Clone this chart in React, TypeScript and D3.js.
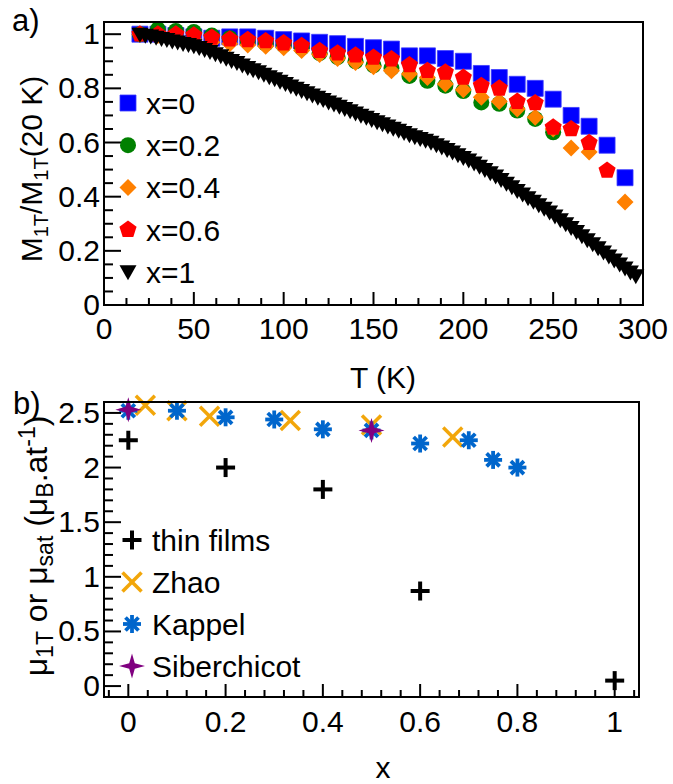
import React from 'react';
import * as d3 from 'd3';

const FONT = '"Liberation Sans", Arial, Helvetica, sans-serif';

// ---------- Panel a) data: M1T / M1T(20 K) vs T ----------
const T_x0 = [20, 30, 40, 50, 60, 70, 80, 90, 100, 110, 120, 130, 140, 150, 160, 170, 180, 190, 200, 210, 220, 230, 240, 250, 260, 270, 280, 290];
const M_x0 = [1.0, 1.0, 0.995, 0.99, 0.985, 0.99, 0.99, 0.985, 0.98, 0.975, 0.97, 0.965, 0.955, 0.95, 0.945, 0.92, 0.92, 0.91, 0.9, 0.855, 0.84, 0.815, 0.8, 0.76, 0.7, 0.66, 0.59, 0.47];

const T_x02 = [20, 30, 40, 50, 60, 70, 80, 90, 100, 110, 120, 130, 140, 150, 160, 170, 180, 190, 200, 210, 220, 230, 240, 250];
const M_x02 = [1.0, 1.018, 1.012, 1.008, 0.995, 0.985, 0.975, 0.965, 0.96, 0.95, 0.93, 0.915, 0.9, 0.885, 0.875, 0.846, 0.828, 0.81, 0.79, 0.748, 0.743, 0.718, 0.687, 0.638];

const T_x04 = [20, 30, 40, 50, 60, 70, 80, 90, 100, 110, 120, 130, 140, 150, 160, 170, 180, 190, 200, 210, 220, 230, 240, 250, 260, 270, 290];
const M_x04 = [1.0, 0.995, 0.99, 0.98, 0.97, 0.965, 0.96, 0.955, 0.95, 0.94, 0.925, 0.91, 0.895, 0.88, 0.865, 0.853, 0.84, 0.816, 0.795, 0.767, 0.751, 0.724, 0.693, 0.65, 0.58, 0.565, 0.38];

const T_x06 = [20, 30, 40, 50, 60, 70, 80, 90, 100, 110, 120, 130, 140, 150, 160, 170, 180, 190, 200, 210, 220, 230, 240, 250, 260, 270, 280];
const M_x06 = [1.0, 1.0, 1.0, 0.996, 0.988, 0.981, 0.979, 0.975, 0.967, 0.957, 0.939, 0.93, 0.922, 0.914, 0.908, 0.886, 0.865, 0.859, 0.84, 0.81, 0.8, 0.751, 0.746, 0.656, 0.65, 0.599, 0.497];

const T_x1 = [20, 23, 26, 29, 32, 35, 38, 41, 44, 47, 50, 53, 56, 59, 62, 65, 68, 71, 74, 77, 80, 83, 86, 89, 92, 95, 98, 101, 104, 107, 110, 113, 116, 119, 122, 125, 128, 131, 134, 137, 140, 143, 146, 149, 152, 155, 158, 161, 164, 167, 170, 173, 176, 179, 182, 185, 188, 191, 194, 197, 200, 203, 206, 209, 212, 215, 218, 221, 224, 227, 230, 233, 236, 239, 242, 245, 248, 251, 254, 257, 260, 263, 266, 269, 272, 275, 278, 281, 284, 287, 290, 293, 296];
const M_x1 = [1.0, 0.996, 0.993, 0.989, 0.984, 0.98, 0.975, 0.971, 0.966, 0.962, 0.957, 0.951, 0.943, 0.936, 0.928, 0.92, 0.911, 0.903, 0.895, 0.886, 0.877, 0.869, 0.861, 0.852, 0.843, 0.835, 0.826, 0.818, 0.809, 0.8, 0.792, 0.784, 0.775, 0.767, 0.759, 0.75, 0.742, 0.734, 0.726, 0.717, 0.709, 0.701, 0.693, 0.685, 0.677, 0.669, 0.661, 0.653, 0.645, 0.637, 0.629, 0.621, 0.615, 0.608, 0.601, 0.592, 0.583, 0.574, 0.565, 0.555, 0.545, 0.535, 0.524, 0.512, 0.5, 0.488, 0.476, 0.463, 0.45, 0.437, 0.423, 0.41, 0.396, 0.383, 0.37, 0.357, 0.343, 0.329, 0.315, 0.3, 0.286, 0.271, 0.256, 0.241, 0.226, 0.211, 0.196, 0.181, 0.166, 0.151, 0.137, 0.122, 0.108];

const TOP_SERIES = ['x=0', 'x=0.2', 'x=0.4', 'x=0.6', 'x=1'];
const TOP_X_TICKS = [0, 50, 100, 150, 200, 250, 300];
const TOP_Y_TICKS = [0, 0.2, 0.4, 0.6, 0.8, 1];

// ---------- Panel b) data: moment vs x ----------
const thinX = [0, 0.2, 0.4, 0.6, 1];
const thinY = [2.25, 2.0, 1.8, 0.87, 0.05];
const zhaoX = [0.035, 0.1, 0.167, 0.333, 0.5, 0.667];
const zhaoY = [2.57, 2.52, 2.47, 2.43, 2.39, 2.28];
const kappelX = [0, 0.1, 0.2, 0.3, 0.4, 0.5, 0.6, 0.7, 0.75, 0.8];
const kappelY = [2.52, 2.52, 2.46, 2.44, 2.35, 2.34, 2.22, 2.25, 2.07, 2.0];
const siberX = [0, 0.5];
const siberY = [2.53, 2.34];

const BOT_SERIES = ['thin films', 'Zhao', 'Kappel', 'Siberchicot'];
const BOT_X_TICKS = [0, 0.2, 0.4, 0.6, 0.8, 1];
const BOT_Y_TICKS = [0, 0.5, 1, 1.5, 2, 2.5];

// ---------- marker shapes ----------
function regularPoly(n: number, r: number, rot: number) {
  const pts: string[] = [];
  for (let i = 0; i < n; i++) {
    const a = rot + (i * 2 * Math.PI) / n;
    pts.push(`${(r * Math.cos(a)).toFixed(2)},${(r * Math.sin(a)).toFixed(2)}`);
  }
  return 'M' + pts.join('L') + 'Z';
}
const PATH_SQUARE = 'M-8,-8L8,-8L8,8L-8,8Z';
const PATH_DIAMOND = 'M0,-8.5L8.5,0L0,8.5L-8.5,0Z';
const PATH_PENT = regularPoly(5, 9, -Math.PI / 2);
const PATH_TRI = 'M-8.5,-6.5L8.5,-6.5L0,8.5Z';
const PATH_STAR4 = 'M0,-12.5L2.8,-2.8L13,0L2.8,2.8L0,12.5L-2.8,2.8L-13,0L-2.8,-2.8Z';

function TopMarker({ kind, x, y }: { kind: number; x: number; y: number }) {
  const t = `translate(${x},${y})`;
  if (kind === 0) return <path d={PATH_SQUARE} transform={t} fill="#0000ff" stroke="#3a3aff" strokeWidth={0.8} />;
  if (kind === 1) return <circle cx={x} cy={y} r={8} fill="#008000" />;
  if (kind === 2) return <path d={PATH_DIAMOND} transform={t} fill="#ff8000" />;
  if (kind === 3) return <path d={PATH_PENT} transform={t} fill="#ff0000" />;
  return <path d={PATH_TRI} transform={t} fill="#000000" />;
}

function BotMarker({ kind, x, y }: { kind: number; x: number; y: number }) {
  const t = `translate(${x},${y})`;
  if (kind === 0)
    return (
      <g transform={t} stroke="#000" strokeWidth={4}>
        <line x1={-9.5} y1={0} x2={9.5} y2={0} />
        <line x1={0} y1={-9.5} x2={0} y2={9.5} />
      </g>
    );
  if (kind === 1)
    return (
      <g transform={t} stroke="#f2a60a" strokeWidth={3.5}>
        <line x1={-9.5} y1={-9.5} x2={9.5} y2={9.5} />
        <line x1={-9.5} y1={9.5} x2={9.5} y2={-9.5} />
      </g>
    );
  if (kind === 2)
    return (
      <g transform={t} stroke="#0066cc" strokeWidth={3.8}>
        <line x1={-9} y1={0} x2={9} y2={0} />
        <line x1={0} y1={-9} x2={0} y2={9} />
        <line x1={-6.5} y1={-6.5} x2={6.5} y2={6.5} />
        <line x1={-6.5} y1={6.5} x2={6.5} y2={-6.5} />
      </g>
    );
  return <path d={PATH_STAR4} transform={t} fill="#800080" />;
}

export default function App() {
  const tx = d3.scaleLinear().domain([0, 300]).range([104, 643]);
  const ty = d3.scaleLinear().domain([0, 1.045]).range([305, 22]);
  const bx = d3.scaleLinear().domain([-0.05, 1.05]).range([104, 639]);
  const by = d3.scaleLinear().domain([-0.1, 2.6]).range([697, 402]);

  const topData = [
    T_x0.map((t, i) => [t, M_x0[i]]),
    T_x02.map((t, i) => [t, M_x02[i]]),
    T_x04.map((t, i) => [t, M_x04[i]]),
    T_x06.map((t, i) => [t, M_x06[i]]),
    T_x1.map((t, i) => [t, M_x1[i]]),
  ];
  const botData = [
    thinX.map((x, i) => [x, thinY[i]]),
    zhaoX.map((x, i) => [x, zhaoY[i]]),
    kappelX.map((x, i) => [x, kappelY[i]]),
    siberX.map((x, i) => [x, siberY[i]]),
  ];

  const fmt = (v: number) => d3.format('~g')(+v.toFixed(3));

  const topXMinor = d3.range(0, 300.01, 12.5);
  const topYMinor = d3.range(0, 1.045, 0.05);
  const botXMinor = d3.range(-0.04, 1.05, 0.04);
  const botYMinor = d3.range(-0.1, 2.6, 0.1);

  const [tX0, tX1] = tx.range();
  const [tY0, tY1] = ty.range();
  const [bX0, bX1] = bx.range();
  const [bY0, bY1] = by.range();

  const fs = 30;

  return (
    <svg
      width={673}
      height={784}
      style={{ position: 'absolute', left: 0, top: 0, background: '#fff' }}
      fontFamily={FONT}
    >
      <rect x={0} y={0} width={673} height={784} fill="#fff" />

      {/* ===== Panel a ===== */}
      <g>
        {topData.map((s, k) => (
          <g key={k}>
            {s.map((d, i) => (
              <TopMarker key={i} kind={k} x={tx(d[0])} y={ty(d[1])} />
            ))}
          </g>
        ))}
        <rect x={tX0} y={tY1} width={tX1 - tX0} height={tY0 - tY1} fill="none" stroke="#000" strokeWidth={2} />
        {topXMinor.map((v, i) => (
          <line key={'txm' + i} x1={tx(v)} x2={tx(v)} y1={tY0} y2={tY0 - (v % 50 === 0 ? 13 : 7)} stroke="#000" strokeWidth={2} />
        ))}
        {TOP_X_TICKS.map((v) => (
          <text key={'txl' + v} x={tx(v)} y={tY0 + 34} textAnchor="middle" fontSize={fs}>
            {fmt(v)}
          </text>
        ))}
        {topYMinor.map((v, i) => {
          const major = Math.abs(v * 5 - Math.round(v * 5)) < 1e-6;
          return <line key={'tym' + i} x1={tX0} x2={tX0 + (major ? 17 : 9)} y1={ty(v)} y2={ty(v)} stroke="#000" strokeWidth={2} />;
        })}
        {TOP_Y_TICKS.map((v) => (
          <text key={'tyl' + v} x={tX0 - 4} y={ty(v) + 10} textAnchor="end" fontSize={fs}>
            {fmt(v)}
          </text>
        ))}
        <text x={383} y={388} textAnchor="middle" fontSize={30}>
          T (K)
        </text>
        <text transform="translate(42,169) rotate(-90)" textAnchor="middle" fontSize={30}>
          M<tspan fontSize={20} dy={6}>1T</tspan>
          <tspan dy={-6}>/M</tspan>
          <tspan fontSize={20} dy={6}>1T</tspan>
          <tspan dy={-6}>(20 K)</tspan>
        </text>
        <text x={12} y={31} fontSize={31}>
          a)
        </text>
        {TOP_SERIES.map((name, k) => (
          <g key={name}>
            <TopMarker kind={k} x={128} y={103 + k * 42.2} />
            <text x={146} y={103 + k * 42.2 + 11} fontSize={30}>
              {name}
            </text>
          </g>
        ))}
      </g>

      {/* ===== Panel b ===== */}
      <g>
        {botData.map((s, k) => (
          <g key={k}>
            {s.map((d, i) => (
              <BotMarker key={i} kind={k} x={bx(d[0])} y={by(d[1])} />
            ))}
          </g>
        ))}
        <rect x={bX0} y={bY1} width={bX1 - bX0} height={bY0 - bY1} fill="none" stroke="#000" strokeWidth={2} />
        {botXMinor.map((v, i) => {
          const major = Math.abs(v * 5 - Math.round(v * 5)) < 1e-6;
          return <line key={'bxm' + i} x1={bx(v)} x2={bx(v)} y1={bY0} y2={bY0 - (major ? 13 : 7)} stroke="#000" strokeWidth={2} />;
        })}
        {BOT_X_TICKS.map((v) => (
          <text key={'bxl' + v} x={bx(v)} y={bY0 + 35} textAnchor="middle" fontSize={fs}>
            {fmt(v)}
          </text>
        ))}
        {botYMinor.map((v, i) => {
          const major = Math.abs(v * 2 - Math.round(v * 2)) < 1e-6;
          return <line key={'bym' + i} x1={bX0} x2={bX0 + (major ? 17 : 9)} y1={by(v)} y2={by(v)} stroke="#000" strokeWidth={2} />;
        })}
        {BOT_Y_TICKS.map((v) => (
          <text key={'byl' + v} x={bX0 - 4} y={by(v) + 10} textAnchor="end" fontSize={fs}>
            {fmt(v)}
          </text>
        ))}
        <text x={383} y={778} textAnchor="middle" fontSize={30}>
          x
        </text>
        <text transform="translate(47,546) rotate(-90)" textAnchor="middle" fontSize={32}>
          μ<tspan fontSize={23} dy={6}>1T</tspan>
          <tspan dy={-6}> or μ</tspan>
          <tspan fontSize={23} dy={6}>sat</tspan>
          <tspan dy={-6}> (μ</tspan>
          <tspan fontSize={23} dy={6}>B</tspan>
          <tspan dy={-6}>.at</tspan>
          <tspan fontSize={23} dy={-12}>-1</tspan>
          <tspan dy={12}>)</tspan>
        </text>
        <text x={13} y={414} fontSize={31}>
          b)
        </text>
        {BOT_SERIES.map((name, k) => (
          <g key={name}>
            <BotMarker kind={k} x={132} y={540 + k * 42} />
            <text x={152} y={540 + k * 42 + 11} fontSize={30}>
              {name}
            </text>
          </g>
        ))}
      </g>
    </svg>
  );
}
